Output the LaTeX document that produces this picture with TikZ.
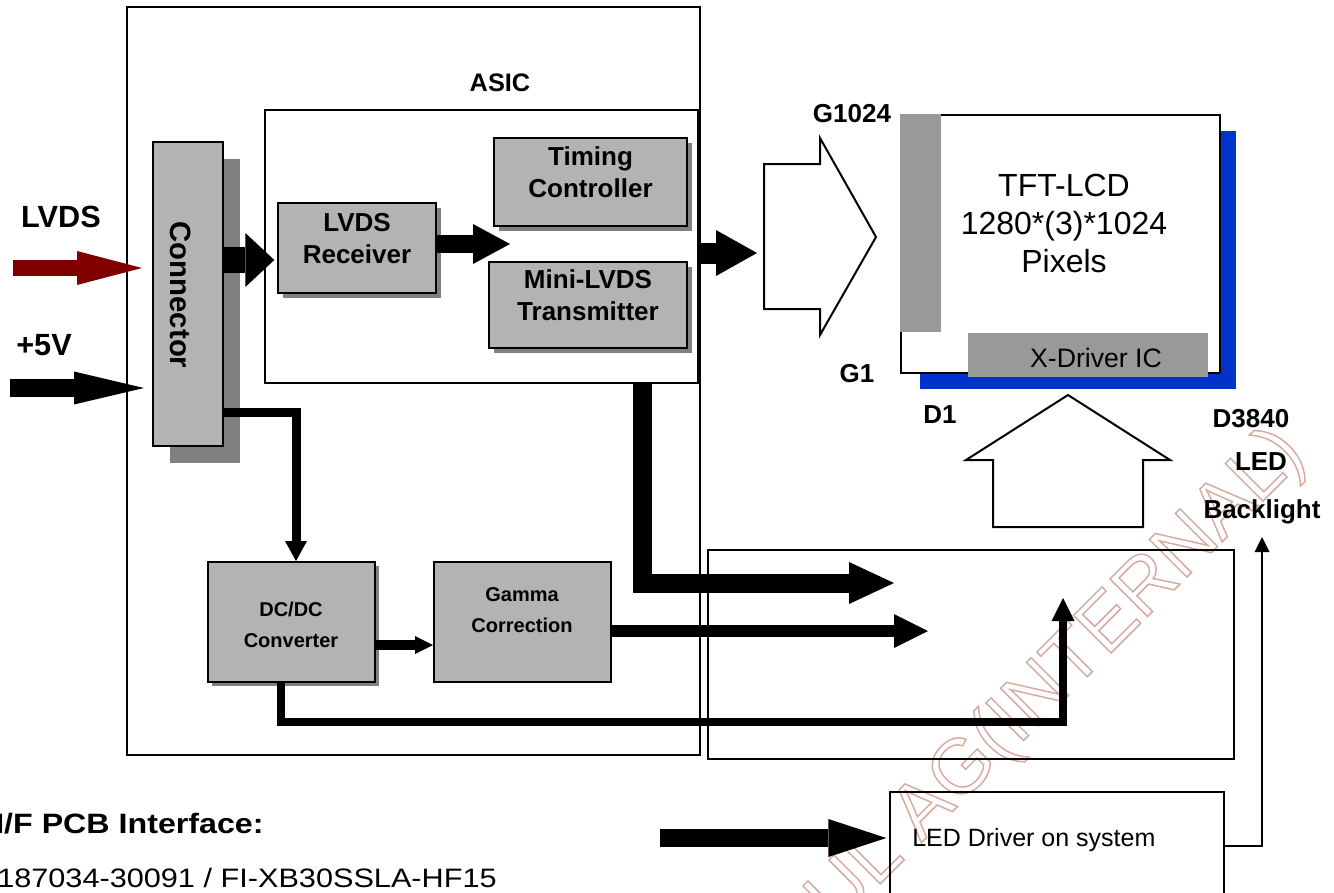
\documentclass[tikz,border=0pt]{standalone}
\usepackage{fontspec}
\setmainfont{Liberation Sans}
\newfontfamily\widefont[FakeStretch=1.15]{Liberation Sans}
\usetikzlibrary{arrows.meta,fit,shadows}
\definecolor{boxgray}{RGB}{179,179,179}
\definecolor{shadowgray}{RGB}{128,128,128}
\definecolor{drvgray}{RGB}{153,153,153}
\definecolor{panelblue}{RGB}{0,51,204}
\definecolor{lvdsred}{RGB}{128,0,0}
\definecolor{wmark}{RGB}{215,170,160}
\newcommand\fsz[2]{\fontsize{#1pt}{#2pt}\selectfont}
\begin{document}
\begin{tikzpicture}[x=0.75pt,y=-0.75pt,
  frame/.style={draw, line width=#1, inner sep=0pt},
  gbox/.style={draw, fill=boxgray, line width=1.5pt, inner sep=0pt, align=center, font=\bfseries\fsz{19.5}{24}},
  sbox/.style={gbox, font=\bfseries\fsz{15}{23.5}},
  shad/.style={drop shadow={shadow xshift=#1, shadow yshift=-#1, fill=shadowgray, opacity=1}},
  lbl/.style={inner sep=0pt, anchor=base, font=\bfseries\fsz{19.5}{19.5}},
  blk/.style n args={3}{line width=#1, -{Triangle[length=#2, width=#3, line width=0pt]}},
  hollow/.style={draw, line width=1.5pt, fill=white, line join=miter}
]
\useasboundingbox (0,0) rectangle (1334,892);

% watermark
\node[rotate=45, anchor=base west, inner sep=0pt, font=\fsz{58}{58}, text=wmark] (wm) at (836,928)
  {\special{pdf:literal direct 1 Tr 1.1 w}UL AG(INTERNAL)\special{pdf:literal direct 0 Tr}};

% frames
\node[frame=1pt, fit={(127,7) (700,755)}] (pcb) {};
\node[frame=1.5pt, fit={(265,110) (698,383)}] (asic) {};
\node[lbl, font=\bfseries\fsz{19}{19}] (asiclbl) at (500,91) {ASIC};
\node[frame=1.2pt, fit={(708,550) (1234,759)}] (sysbox) {};
\node[frame=1.5pt, fit={(890,792) (1224,905)}] (led) {};
\node[inner sep=0pt, anchor=base west, font=\fsz{18.75}{18.75}] (ledtxt) at (912,846) {LED Driver on system};

% gray blocks
\node[gbox, shad=12.75pt, fit={(153,142) (223,446)}] (conn) {};
\node[rotate=-90, inner sep=0pt, font=\bfseries\fsz{22}{22}] (connlbl) at (181,295) {Connector};
\node[gbox, shad=3.75pt, fit={(278,203) (436,293)}] (rx) {LVDS\\Receiver};
\node[gbox, shad=3.75pt, fit={(494,138) (687,226)}] (tc) {Timing\\Controller};
\node[gbox, shad=3.75pt, fit={(489,262) (687,348)}] (mini) {Mini-LVDS\\Transmitter};
\node[sbox, shad=3pt, fit={(208,562) (375,682)}] (dcdc) {};
\node[inner sep=0pt, align=center, font=\bfseries\fsz{15}{23.5}] (dcdclbl) at (291,625) {DC/DC\\Converter};
\node[sbox, fit={(434,562) (611,682)}] (gamma) {};
\node[inner sep=0pt, align=center, font=\bfseries\fsz{15}{23.5}] (gammalbl) at (522,610) {Gamma\\Correction};

% panel
\node[fill=panelblue, inner sep=0pt, fit={(920,131) (1236,389)}] (blshadow) {};
\node[frame=1.5pt, fill=white, fit={(901,115) (1220,373)}] (panel) {};
\node[fill=drvgray, inner sep=0pt, fit={(900,114) (941,332)}] (ydrv) {};
\node[fill=drvgray, inner sep=0pt, fit={(968,333) (1208,377)}] (xdrv) {};
\node[inner sep=0pt, font=\fsz{20}{20}] (xdrvlbl) at (1096,358) {X-Driver IC};
\node[inner sep=0pt, align=center, font=\fsz{24}{28.5}] (tft) at (1064,223) {TFT-LCD\\1280*(3)*1024\\Pixels};

% labels
\node[lbl, font=\bfseries\fsz{23}{23}] (lvdslbl) at (61,227) {LVDS};
\node[lbl, font=\bfseries\fsz{23}{23}] (p5lbl) at (44,355) {+5V};
\node[lbl] (g1024) at (852,122) {G1024};
\node[lbl] (g1) at (857,382) {G1};
\node[lbl] (d1) at (940,423) {D1};
\node[lbl] (d3840) at (1251,427) {D3840};
\node[lbl] (ledlbl) at (1261,470) {LED};
\node[lbl] (bllbl) at (1262,518) {Backlight};

% hollow arrows
\draw[hollow] (764,164) -- (820,164) -- (820,138) -- (876,237) -- (820,335) -- (820,309) -- (764,309) -- cycle;
\draw[hollow] (993,527) -- (993,460) -- (966,460) -- (1068,395) -- (1170,460) -- (1143,460) -- (1143,527) -- cycle;

% coordinates
\coordinate (lvdsS) at (13,268);
\coordinate (p5S) at (10,388);
\coordinate (cr) at (0,260);
\coordinate (rxT) at (510,244);
\coordinate (gaS) at (0,253);
\coordinate (gtip) at (757,253);
\coordinate (mx) at (642,0);
\coordinate (bt1) at (894,583);
\coordinate (bt2) at (928,631);
\coordinate (bt3) at (1063,598);
\coordinate (dcx) at (281,0);
\coordinate (corner) at (1063,722);
\coordinate (cy2) at (0,412);
\coordinate (cx2) at (296,0);
\coordinate (dg) at (0,645);
\coordinate (ledS) at (660,838);
\coordinate (lb) at (0,846);
\coordinate (bltip) at (1262,537);

% connectors
\draw[blk={12pt}{48.75pt}{25.5pt}, lvdsred, shorten >=7.5pt] (lvdsS) -- (lvdsS -| conn.west);
\draw[blk={13.5pt}{52.5pt}{24.75pt}, shorten >=6pt] (p5S) -- (p5S -| conn.west);
\draw[blk={19.5pt}{21.75pt}{40.5pt}, shorten >=2pt] (conn.east |- cr) -- (rx.west |- cr);
\draw[blk={13.5pt}{27.75pt}{30pt}] (rx.east |- rxT) -- (rxT);
\draw[blk={15.75pt}{30.75pt}{34.5pt}] (asic.east |- gaS) -- (gtip);
\draw[blk={14.25pt}{33.75pt}{31.5pt}] (asic.south -| mx) |- (bt1);
\draw[blk={9pt}{25.5pt}{25.5pt}] (gamma.east |- bt2) -- (bt2);
\draw[blk={6pt}{17.25pt}{17.25pt}] (dcdc.south -| dcx) |- (corner) -- (bt3);
\draw[blk={6.75pt}{15pt}{16.5pt}] (conn.east |- cy2) -| (dcdc.north -| cx2);
\draw[blk={7.5pt}{13.5pt}{13.5pt}] (dcdc.east |- dg) -- (gamma.west |- dg);
\draw[blk={13.5pt}{43.5pt}{28.5pt}, shorten >=2pt] (ledS) -- (ledS -| led.west);
\draw[blk={1.1pt}{11.25pt}{11.25pt}] (led.east |- lb) -| (bltip);

% bottom text
\node[inner sep=0pt, anchor=base west, font=\widefont\bfseries\fsz{21}{21}] (iftxt) at (-5,833) {I/F PCB Interface:};
\node[inner sep=0pt, anchor=base west, font=\widefont\fsz{20}{20}] (pntxt) at (-3,887) {187034-30091 / FI-XB30SSLA-HF15};
\end{tikzpicture}
\end{document}
